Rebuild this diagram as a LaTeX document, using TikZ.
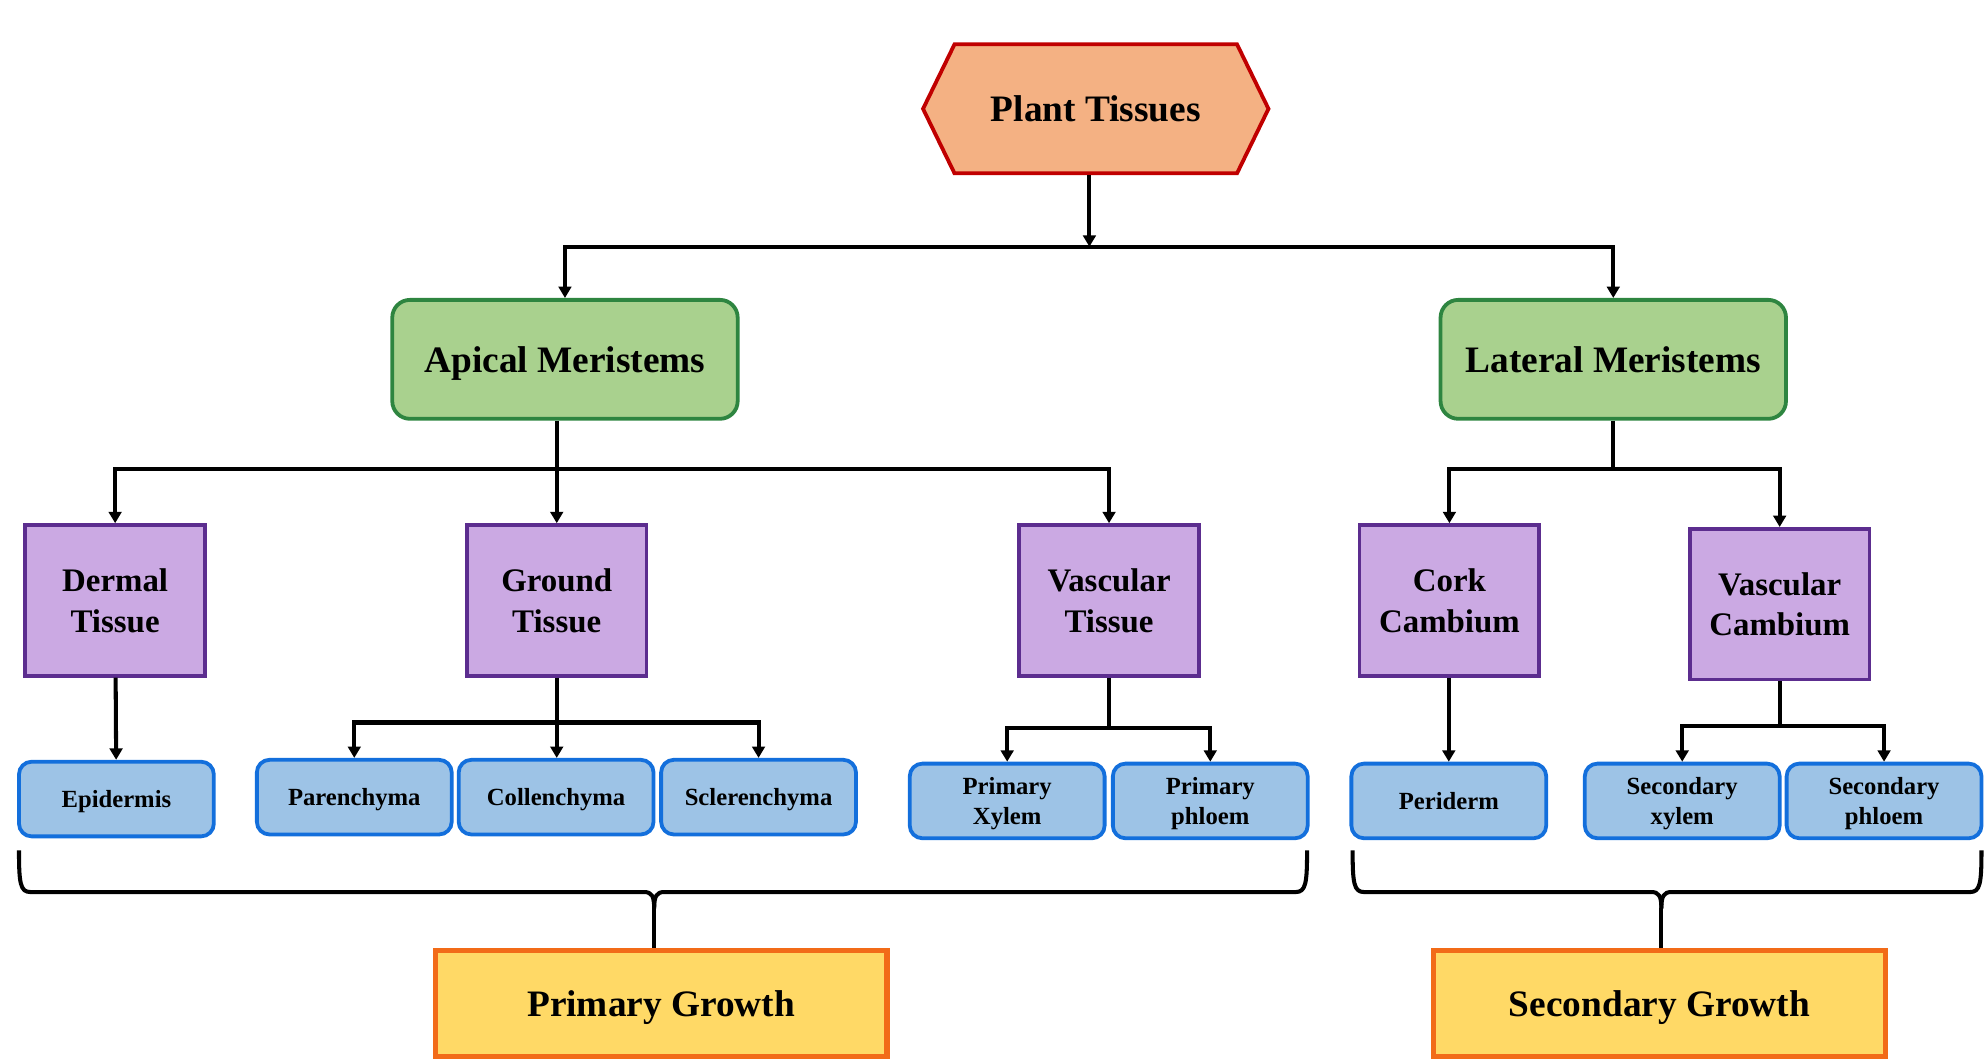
\documentclass[tikz,border=0pt]{standalone}
\usepackage{fontspec}
\setmainfont{Liberation Serif}
\usetikzlibrary{arrows.meta,shapes.symbols}

\definecolor{rootfill}{HTML}{F4B183}
\definecolor{rootline}{HTML}{C00000}
\definecolor{merifill}{HTML}{A9D18E}
\definecolor{meriline}{HTML}{2E8540}
\definecolor{tisfill}{HTML}{CBA9E3}
\definecolor{tisline}{HTML}{5C2D8F}
\definecolor{cellfill}{HTML}{9DC3E6}
\definecolor{cellline}{HTML}{136FDC}
\definecolor{growfill}{HTML}{FFD966}
\definecolor{growline}{HTML}{F26B18}

\begin{document}
\begin{tikzpicture}[x=1pt, y=-1pt,
    every node/.style={align=center, inner sep=0pt, text depth=0pt},
    root/.style={shape=signal, signal to=west and east, signal pointer angle=128,
        draw=rootline, fill=rootfill, line width=3pt,
        minimum width=273pt, minimum height=102pt,
        font=\bfseries\fontsize{29.5}{35}\selectfont},
    meri/.style={rectangle, rounded corners=14pt, draw=meriline, fill=merifill,
        line width=3pt, minimum width=273pt, minimum height=94pt,
        font=\bfseries\fontsize{29.5}{35}\selectfont},
    tissue/.style={rectangle, draw=tisline, fill=tisfill, line width=3pt,
        minimum width=142pt, minimum height=119pt,
        font=\bfseries\fontsize{26}{32}\selectfont},
    cell/.style={rectangle, rounded corners=10pt, draw=cellline, fill=cellfill,
        line width=3pt, minimum width=154pt, minimum height=59pt,
        font=\bfseries\fontsize{19.5}{24}\selectfont},
    growth/.style={rectangle, draw=growline, fill=growfill, line width=4pt,
        minimum width=357pt, minimum height=84pt,
        font=\bfseries\fontsize{29.5}{35}\selectfont},
    link/.style={line width=3.2pt},
    arr/.style={link, -{Triangle[length=9pt,width=10pt]}},
    brace/.style={line width=3.2pt, line join=round}]

    \useasboundingbox (0,0) rectangle (1568,837);

    \node[root] (PT) at (866, 86) {Plant Tissues};

    \coordinate (j0) at (861, 195);
    \draw[arr] (PT.south -| j0) -- (j0);
    \node[meri] (AM) at (446.5, 284) {Apical Meristems};
    \draw[arr] (j0) -| (AM.north);
    \node[meri] (LM) at (1275, 284) {Lateral Meristems};
    \draw[arr] (j0) -| (LM.north);

    % apical side
    \coordinate (j1) at (440, 371);
    \draw[link] (AM.south -| j1) -- (j1);
    \node[tissue] (DT) at (91, 474.5) {Dermal\\Tissue};
    \draw[arr] (j1) -| (DT.north);
    \node[tissue] (GT) at (440, 474.5) {Ground\\Tissue};
    \draw[arr] (j1) -- (GT.north);
    \node[tissue] (VT) at (876.5, 474.5) {Vascular\\Tissue};
    \draw[arr] (j1) -| (VT.north);

    % lateral side
    \coordinate (j2) at (1275, 371);
    \draw[link] (LM.south) -- (j2);
    \node[tissue] (CC) at (1145.5, 474.5) {Cork\\Cambium};
    \draw[arr] (j2) -| (CC.north);
    \node[tissue] (VC) at (1406.5, 477.5) {Vascular\\Cambium};
    \draw[arr] (j2) -| (VC.north);

    \node[cell] (EP) at (92, 631.5) {Epidermis};
    \draw[arr] (DT) -- (EP);

    \coordinate (j3) at (440, 571);
    \draw[link] (GT.south) -- (j3);
    \node[cell] (PA) at (280, 630) {Parenchyma};
    \draw[arr] (j3) -| (PA.north);
    \node[cell] (CO) at (439.5, 630) {Collenchyma};
    \draw[arr] (j3) -- (CO.north -| j3);
    \node[cell] (SC) at (599.5, 630) {Sclerenchyma};
    \draw[arr] (j3) -| (SC.north);

    \coordinate (j4) at (876.5, 575);
    \draw[link] (VT.south) -- (j4);
    \node[cell] (PX) at (796, 633) {Primary\\Xylem};
    \draw[arr] (j4) -| (PX.north);
    \node[cell] (PP) at (956.5, 633) {Primary\\phloem};
    \draw[arr] (j4) -| (PP.north);

    \node[cell] (PD) at (1145, 633) {Periderm};
    \draw[arr] (CC.south -| PD) -- (PD.north);

    \coordinate (j5) at (1406.5, 574);
    \draw[link] (VC.south) -- (j5);
    \node[cell] (SX) at (1329.5, 633) {Secondary\\xylem};
    \draw[arr] (j5) -| (SX.north);
    \node[cell] (SP) at (1489, 633) {Secondary\\phloem};
    \draw[arr] (j5) -| (SP.north);

    % braces
    \node[growth] (PG) at (522.5, 793) {Primary Growth};
    \coordinate (t1) at (517, 718);
    \draw[brace] (15,672) .. controls (15,698) and (16,705) .. (24,705)
        -- (509,705) .. controls (515,705) and (517,708) .. (t1);
    \draw[brace] (1033,672) .. controls (1033,698) and (1032,705) .. (1024,705)
        -- (525,705) .. controls (519,705) and (517,708) .. (t1);
    \draw[link] (t1) -- (t1 |- PG.north);

    \node[growth] (SG) at (1311.5, 793) {Secondary Growth};
    \coordinate (t2) at (1313, 718);
    \draw[brace] (1069,672) .. controls (1069,698) and (1070,705) .. (1078,705)
        -- (1305,705) .. controls (1311,705) and (1313,708) .. (t2);
    \draw[brace] (1566,672) .. controls (1566,698) and (1565,705) .. (1557,705)
        -- (1321,705) .. controls (1315,705) and (1313,708) .. (t2);
    \draw[link] (t2) -- (t2 |- SG.north);
\end{tikzpicture}
\end{document}
